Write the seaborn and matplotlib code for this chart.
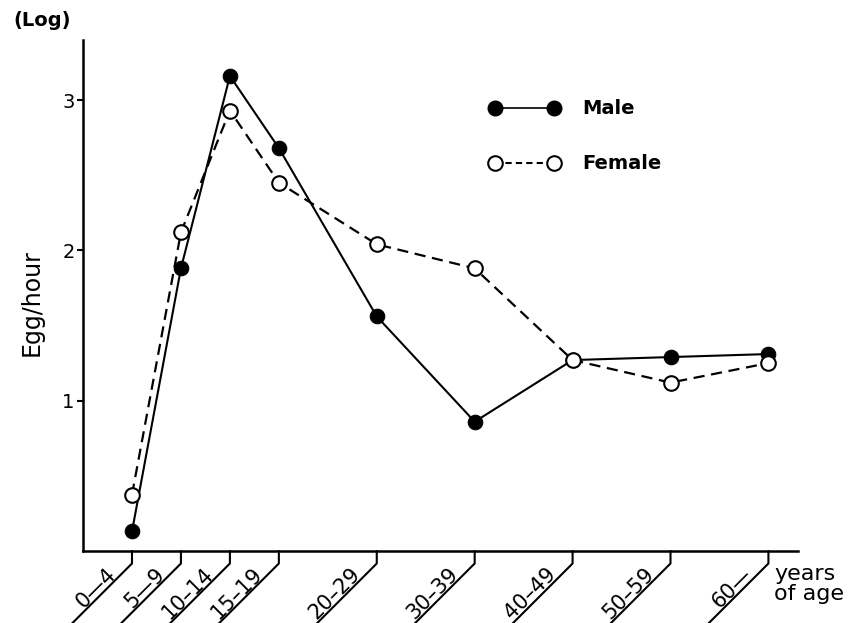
import matplotlib
matplotlib.use("Agg")
import matplotlib.pyplot as plt
import seaborn as sns
import pandas as pd
from matplotlib.lines import Line2D

# ---- data ----
age_labels = ["0\u20144", "5\u20149", "10\u201314", "15\u201319", "20\u201329",
              "30\u201339", "40\u201349", "50\u201359", "60\u2014"]
age_pos = [5, 10, 15, 20, 30, 40, 50, 60, 70]   # upper bound of each age class
male = [0.13, 1.88, 3.16, 2.68, 1.56, 0.86, 1.27, 1.29, 1.31]
female = [0.375, 2.12, 2.93, 2.45, 2.04, 1.88, 1.27, 1.12, 1.25]
y_ticks = [1, 2, 3]

df_m = pd.DataFrame({"age": age_pos, "egg": male})
df_f = pd.DataFrame({"age": age_pos, "egg": female})

sns.set_theme(style="white")
plt.rcParams["font.family"] = ["DejaVu Sans"]
plt.rcParams["text.color"] = "black"
plt.rcParams["xtick.color"] = "black"
plt.rcParams["ytick.color"] = "black"
plt.rcParams["axes.labelcolor"] = "black"

fig = plt.figure(figsize=(8.56, 6.23), dpi=100)
ax = fig.add_axes([0.097, 0.1156, 0.835, 0.8204])

sns.lineplot(data=df_m, x="age", y="egg", ax=ax, color="black", lw=1.5,
             marker="o", markersize=10.5, markerfacecolor="black",
             markeredgecolor="black", linestyle="-")
sns.lineplot(data=df_f, x="age", y="egg", ax=ax, color="black", lw=1.6,
             marker="o", markersize=10.5, markerfacecolor="white",
             markeredgecolor="black", markeredgewidth=1.5,
             dashes=False, linestyle=(0, (5, 3)))

ax.set_xlim(0, 73)
ax.set_ylim(0, 3.4)
for s in ["top", "right"]:
    ax.spines[s].set_visible(False)
for s in ["left", "bottom"]:
    ax.spines[s].set_color("black")
    ax.spines[s].set_linewidth(1.8)

ax.set_yticks(y_ticks)
ax.set_yticklabels([str(v) for v in y_ticks], fontsize=14)
ax.tick_params(axis="y", direction="out", length=4, width=1.5, color="black",
               pad=2, left=True)
ax.set_xticks(age_pos)
ax.set_xticklabels([])
ax.tick_params(axis="x", length=0)
ax.set_xlabel("")
ax.set_ylabel("")

# slanted tick lines with labels
xtrans = ax.get_xaxis_transform()
for xp, lab in zip(age_pos, age_labels):
    ax.annotate("", xy=(xp, 0), xycoords=xtrans,
                xytext=(-60, -69), textcoords="offset points",
                arrowprops=dict(arrowstyle="-", lw=1.5, color="black",
                                shrinkA=0, shrinkB=0,
                                connectionstyle="angle,angleA=45,angleB=90,rad=0"),
                annotation_clip=False)
    ax.annotate(lab, xy=(xp, 0), xycoords=xtrans,
                xytext=(-11, -17.5), textcoords="offset points",
                rotation=45, rotation_mode="anchor", ha="right", va="baseline",
                fontsize=15, annotation_clip=False)

fig.text(13 / 856, 1 - 21 / 623, "(Log)", fontsize=14, fontweight="bold",
         ha="left", va="center")
fig.text(32 / 856, 1 - 303 / 623, "Egg/hour", fontsize=17, rotation=90,
         ha="center", va="center")
fig.text(774 / 856, 1 - 584 / 623, "years\nof age", fontsize=16,
         ha="left", va="center", linespacing=0.95)

handles = [
    Line2D([], [], color="black", lw=1.2, marker="o", markersize=10.5,
           markerfacecolor="black", markeredgecolor="black"),
    Line2D([], [], color="black", lw=1.5, linestyle=(0, (3, 2)), marker="o",
           markersize=10.5, markerfacecolor="white", markeredgecolor="black",
           markeredgewidth=1.5),
]
ax.legend(handles, ["Male", "Female"], loc="upper left",
          bbox_to_anchor=(472 / 856, 1 - 82 / 623), bbox_transform=fig.transFigure,
          frameon=False, numpoints=2, handlelength=3.6, handletextpad=1.15,
          labelspacing=1.85, prop={"weight": "bold", "size": 14})

fig.savefig("out.png", dpi=100)
